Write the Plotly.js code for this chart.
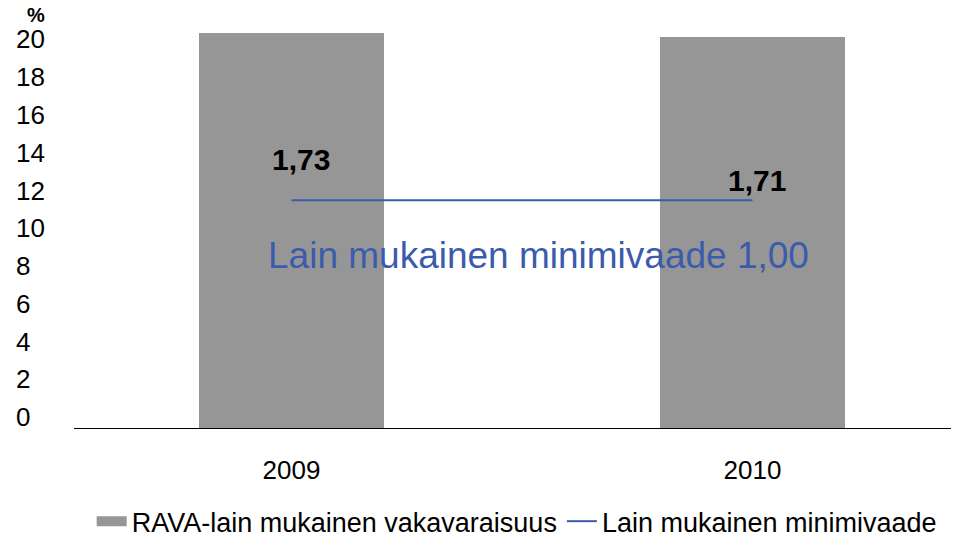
<!DOCTYPE html>
<html>
<head>
<meta charset="utf-8">
<script src="https://cdn.plot.ly/plotly-3.0.1.min.js"></script>
<style>html,body{margin:0;padding:0;background:#fff;} #chart{width:961px;height:535px;}</style>
</head>
<body>
<div id="chart"></div>
<script>
// ---- data ----
const categories = ["2009", "2010"];
const barValues = [20.9, 20.7];           // RAVA-lain mukainen vakavaraisuus (chart scale)
const lineValues = [12.06, 12.06];        // Lain mukainen minimivaade (chart scale)
const lineLabels = ["1,73", "1,71"];
const yTicks = [0, 2, 4, 6, 8, 10, 12, 14, 16, 18, 20];
const seriesNames = ["RAVA-lain mukainen vakavaraisuus", "Lain mukainen minimivaade"];
const minText = "Lain mukainen minimivaade 1,00";

const FONT = "Arial, 'Liberation Sans', sans-serif";
const BLUE = "#3B5BAC";
const GREY = "#969696";

const traces = [
  {
    type: "bar",
    x: categories,
    y: barValues,
    name: seriesNames[0],
    legendgroup: "bars",
    showlegend: false,
    width: 0.401,
    marker: {color: GREY},
    hoverinfo: "skip"
  },
  {
    // legend entry for the bars (wide grey swatch like the original)
    type: "scatter",
    mode: "lines",
    x: categories,
    y: [null, null],
    name: seriesNames[0],
    legendgroup: "bars",
    line: {color: GREY, width: 17},
    hoverinfo: "skip"
  },
  {
    type: "scatter",
    mode: "lines",
    x: categories,
    y: lineValues,
    name: seriesNames[1],
    line: {color: BLUE, width: 2},
    hoverinfo: "skip"
  }
];

const labelShifts = [[9, 41], [5, 20]];
const annotations = lineLabels.map((t, i) => ({
  x: i, y: lineValues[i], xref: "x", yref: "y",
  xanchor: "center", yanchor: "middle",
  text: "<b>" + t + "</b>", showarrow: false,
  xshift: labelShifts[i][0], yshift: labelShifts[i][1],
  font: {family: FONT, size: 30, color: "#000"}
}));
annotations.push({
  x: 0.536, y: 9.15, xref: "x", yref: "y", text: minText, showarrow: false,
  xanchor: "center", yanchor: "middle",
  font: {family: FONT, size: 37, color: BLUE}
});

const ML = 14, MR = 10, MT = 22, MB = 107;
const plotW = 961 - ML - MR;
const plotH = 535 - MT - MB;
annotations.push({
  x: (36 - ML) / plotW, y: (428 - 15) / plotH, xref: "paper", yref: "paper",
  xanchor: "center", yanchor: "middle",
  text: "<b>%</b>", showarrow: false,
  font: {family: FONT, size: 20, color: "#000"}
});

const layout = {
  width: 961, height: 535,
  margin: {l: ML, r: MR, t: MT, b: MB, pad: 0},
  paper_bgcolor: "#fff", plot_bgcolor: "#fff",
  font: {family: FONT, size: 27, color: "#000"},
  showlegend: true,
  legend: {
    orientation: "h", xref: "container", yref: "container",
    x: 0.0954, y: 0.025, xanchor: "left", yanchor: "middle",
    font: {family: FONT, size: 27, color: "#000"},
    itemwidth: 30,
    traceorder: "normal", bgcolor: "rgba(0,0,0,0)"
  },
  xaxis: {
    type: "category",
    categoryorder: "array", categoryarray: categories,
    domain: [(74 - ML) / plotW, 1],
    range: [-0.4718, 1.4306],
    showline: true, linecolor: "#000", linewidth: 1,
    showgrid: false, zeroline: false, ticks: "",
    ticklabelstandoff: 19,
    tickfont: {family: FONT, size: 26, color: "#000"},
    fixedrange: true
  },
  yaxis: {
    anchor: "free", position: 0, side: "right",
    range: [0, 21.5],
    tickvals: yTicks, ticktext: yTicks.map(String),
    ticklabelshift: -11,
    ticklabelstandoff: 1,
    showline: false, showgrid: false, zeroline: false, ticks: "",
    tickfont: {family: FONT, size: 26, color: "#000"},
    automargin: false,
    fixedrange: true
  },
  bargap: 0,
  annotations: annotations
};

Plotly.newPlot("chart", traces, layout, {displayModeBar: false, staticPlot: true});
</script>
</body>
</html>
